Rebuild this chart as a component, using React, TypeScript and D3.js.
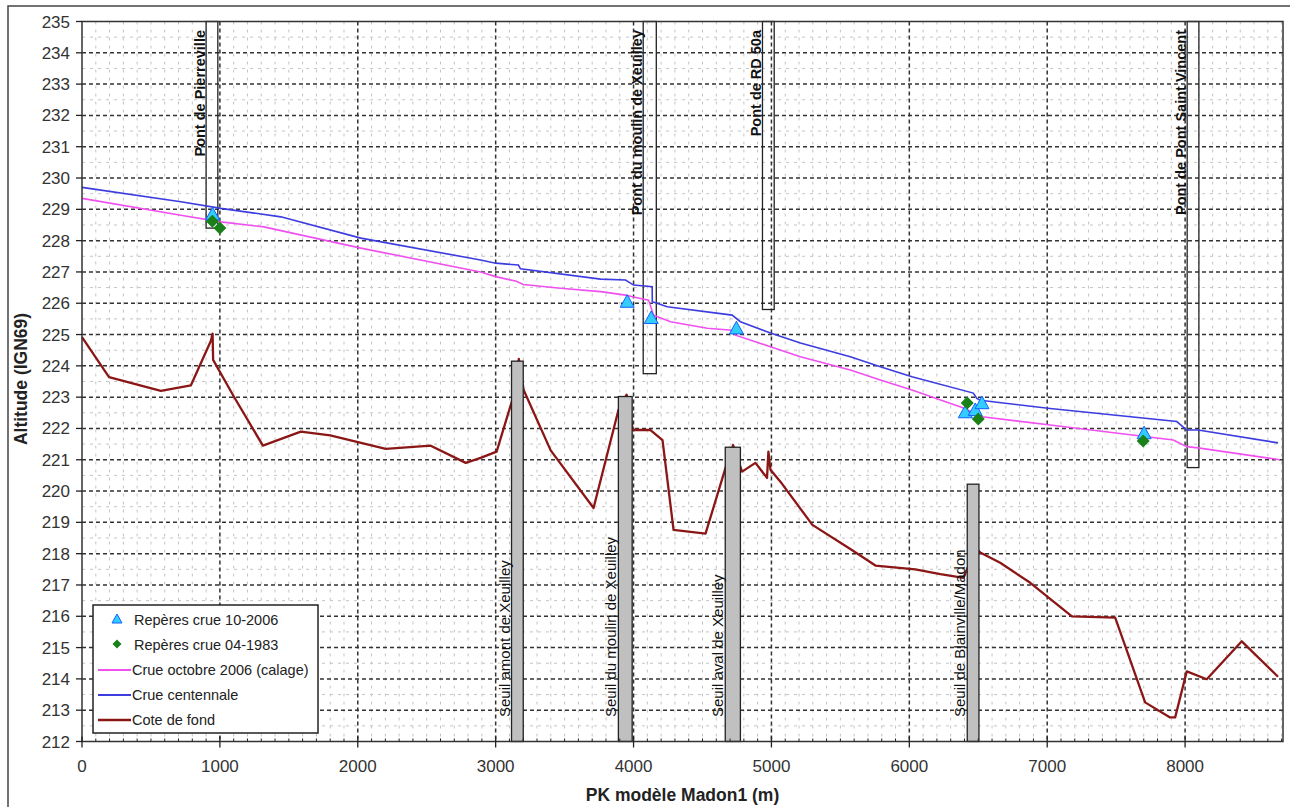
import React from 'react';
import * as d3 from 'd3';

// ---------- Data ----------
const coteDeFond: [number, number][] = [
  [0, 224.92], [196, 223.64], [572, 223.2], [790, 223.38], [935, 224.8], [947, 225.03],
  [951, 224.19], [1101, 223.02], [1312, 221.45], [1587, 221.9], [1800, 221.78],
  [2203, 221.35], [2529, 221.45], [2783, 220.9], [2891, 221.06], [3007, 221.26],
  [3120, 222.9], [3168, 224.22], [3203, 223.23], [3399, 221.3], [3710, 219.46],
  [3891, 222.6], [3950, 223.08], [3995, 221.95], [4123, 221.95], [4210, 221.63],
  [4290, 218.76], [4522, 218.64], [4667, 220.74], [4722, 221.47], [4787, 220.62],
  [4884, 220.9], [4968, 220.42], [4978, 221.26], [4993, 220.68], [5065, 220.3],
  [5297, 218.92], [5572, 218.15], [5754, 217.62], [6043, 217.5], [6225, 217.35],
  [6393, 217.23], [6423, 217.55], [6500, 218.1], [6514, 218.04], [6659, 217.71],
  [6877, 217.07], [7179, 216.0], [7493, 215.96], [7710, 213.25], [7891, 212.77],
  [7928, 212.77], [8012, 214.24], [8157, 213.99], [8411, 215.2], [8674, 214.07],
];

const crueCentennale: [number, number][] = [
  [0, 229.7], [717, 229.24], [1007, 229.03], [1442, 228.76], [2022, 228.08],
  [2891, 227.38], [3000, 227.28], [3165, 227.22], [3180, 227.1], [3761, 226.77],
  [3942, 226.74], [4000, 226.58], [4135, 226.53], [4136, 226.05], [4244, 225.89],
  [4715, 225.62], [4775, 225.41], [4993, 225.05], [5210, 224.73], [5572, 224.29],
  [5790, 223.97], [6019, 223.65], [6464, 223.13], [6490, 222.96], [6514, 222.9],
  [7021, 222.64], [7940, 222.22], [8012, 221.95], [8094, 221.95], [8674, 221.54],
];

const crueOctobre2006: [number, number][] = [
  [0, 229.35], [717, 228.81], [1007, 228.6], [1319, 228.44], [2022, 227.76],
  [2891, 227.0], [3000, 226.85], [3150, 226.7], [3200, 226.6], [3471, 226.48],
  [3761, 226.37], [3942, 226.26], [4000, 226.2], [4109, 226.1], [4145, 225.62],
  [4268, 225.41], [4534, 225.2], [4715, 225.14], [4739, 224.98], [4993, 224.61],
  [5210, 224.29], [5572, 223.87], [5790, 223.55], [6019, 223.23], [6393, 222.65],
  [6514, 222.38], [7021, 222.11], [7915, 221.63], [8012, 221.42], [8094, 221.38],
  [8688, 221.0],
];

const reperes2006: [number, number][] = [
  [947, 228.84], [3954, 226.05], [4128, 225.53], [4746, 225.2],
  [6406, 222.52], [6478, 222.59], [6527, 222.81], [7703, 221.85],
];

const reperes1983: [number, number][] = [
  [945, 228.62], [1000, 228.4], [6420, 222.81], [6500, 222.3], [7696, 221.6],
];

const bridgeNames = ['Pont de Pierreville', 'Pont du moulin de Xeuilley', 'Pont de RD 50a', 'Pont de Pont Saint Vincent'];
const bridgeStart = [900, 4070, 4935, 8015];
const bridgeEnd = [985, 4165, 5020, 8100];
const bridgeBottom = [228.4, 223.75, 225.8, 220.75];

const weirNames = ['Seuil amont de Xeuilley', 'Seuil du moulin de Xeuilley', 'Seuil aval de Xeuilley', 'Seuil de Blainville/Madon'];
const weirStart = [3115, 3890, 4665, 6420];
const weirEnd = [3200, 3990, 4775, 6505];
const weirTop = [224.15, 223.02, 221.4, 220.22];

const xTicks = [0, 1000, 2000, 3000, 4000, 5000, 6000, 7000, 8000];
const yTicks = d3.range(212, 236, 1);

const legendLabels = [
  'Repères crue 10-2006',
  'Repères crue 04-1983',
  'Crue octobre 2006 (calage)',
  'Crue centennale',
  'Cote de fond',
];

// ---------- Styles ----------
const COL_PINK = '#f050f0';
const COL_BLUE = '#3c3ce0';
const COL_RED = '#8b1616';
const TRI_FILL = '#33ccff';
const TRI_STROKE = '#1060ff';
const DIA_FILL = '#1a801a';
const FONT = '"Liberation Sans", Arial, sans-serif';

export default function App() {
  const W = 1290, H = 807;
  const x = d3.scaleLinear().domain([0, 8710]).range([82, 1283]);
  const y = d3.scaleLinear().domain([212, 235]).range([741.5, 21.5]);
  const [x0, x1] = x.range();
  const [yb, yt] = y.range();

  const line = d3.line<[number, number]>().x(d => x(d[0])).y(d => y(d[1]));

  const minorX = d3.range(100, 8710, 100).filter(v => v % 1000 !== 0);
  const minorY = d3.range(212.5, 235, 1);

  const tri = (cx: number, cy: number, s = 7) =>
    `M${cx},${cy - s} L${cx + s},${cy + s * 0.8} L${cx - s},${cy + s * 0.8} Z`;
  const dia = (cx: number, cy: number, s = 6.5) =>
    `M${cx},${cy - s} L${cx + s},${cy} L${cx},${cy + s} L${cx - s},${cy} Z`;

  return (
    <svg width={W} height={H} style={{ position: 'absolute', left: 0, top: 0, background: '#fff' }} fontFamily={FONT}>
      <rect x={0} y={0} width={W} height={H} fill="#fff" />
      <rect x={8} y={6} width={W} height={H} fill="none" stroke="#444" strokeWidth={1.5} />

      {/* minor grid */}
      <g stroke="#c4c4c4" strokeWidth={1} strokeDasharray="3 5">
        {minorX.map(v => (
          <line key={'mx' + v} x1={x(v)} x2={x(v)} y1={yt} y2={yb} />
        ))}
        {minorY.map(v => (
          <line key={'my' + v} x1={x0} x2={x1} y1={y(v)} y2={y(v)} />
        ))}
      </g>
      {/* major grid */}
      <g stroke="#333" strokeWidth={1.5} strokeDasharray="4 3">
        {xTicks.filter(v => v > 0).map(v => (
          <line key={'gx' + v} x1={x(v)} x2={x(v)} y1={yt} y2={yb} />
        ))}
        {yTicks.filter(v => v > 212 && v < 235).map(v => (
          <line key={'gy' + v} x1={x0} x2={x1} y1={y(v)} y2={y(v)} />
        ))}
      </g>

      {/* cote de fond */}
      <path d={line(coteDeFond) || ''} fill="none" stroke={COL_RED} strokeWidth={2.3} strokeLinejoin="round" />

      {/* weirs */}
      {weirNames.map((n, i) => (
        <g key={n}>
          <rect x={x(weirStart[i])} y={y(weirTop[i])} width={x(weirEnd[i]) - x(weirStart[i])}
            height={yb - y(weirTop[i])} fill="#c0c0c0" stroke="#222" strokeWidth={1.3} />
          <text transform={`translate(${x(weirStart[i]) - 2},717) rotate(-90)`} fontSize={15}
            fill="#111" textAnchor="start">{n}</text>
        </g>
      ))}

      {/* bridges */}
      {bridgeNames.map((n, i) => (
        <g key={n}>
          <rect x={x(bridgeStart[i])} y={yt} width={x(bridgeEnd[i]) - x(bridgeStart[i])}
            height={y(bridgeBottom[i]) - yt} fill="none" stroke="#222" strokeWidth={1.3} />
          <text transform={`translate(${x(bridgeStart[i]) - 1.5},30) rotate(-90)`} fontSize={14.5}
            fontWeight="bold" fill="#111" textAnchor="end">{n}</text>
        </g>
      ))}

      {/* water lines */}
      <path d={line(crueOctobre2006) || ''} fill="none" stroke={COL_PINK} strokeWidth={1.6} />
      <path d={line(crueCentennale) || ''} fill="none" stroke={COL_BLUE} strokeWidth={1.6} />

      {/* markers */}
      {reperes2006.map((d, i) => (
        <path key={'t' + i} d={tri(x(d[0]), y(d[1]))} fill={TRI_FILL} stroke={TRI_STROKE} strokeWidth={1} />
      ))}
      {reperes1983.map((d, i) => (
        <path key={'d' + i} d={dia(x(d[0]), y(d[1]))} fill={DIA_FILL} />
      ))}

      {/* plot frame */}
      <rect x={x0} y={yt} width={x1 - x0} height={yb - yt} fill="none" stroke="#333" strokeWidth={1.5} />

      {/* axis ticks */}
      <g stroke="#222" strokeWidth={1.3}>
        {yTicks.map(v => (
          <line key={'yt' + v} x1={x0 - 6} x2={x0} y1={y(v)} y2={y(v)} />
        ))}
        {xTicks.map(v => (
          <line key={'xt' + v} x1={x(v)} x2={x(v)} y1={yb - 5} y2={yb + 6} />
        ))}
        {minorX.map(v => (
          <line key={'xm' + v} x1={x(v)} x2={x(v)} y1={yb - 3} y2={yb} strokeWidth={1} />
        ))}
      </g>
      <g fontSize={17} fill="#333" textAnchor="end">
        {yTicks.map(v => (
          <text key={'yl' + v} x={70} y={y(v) + 6}>{v}</text>
        ))}
      </g>
      <g fontSize={17} fill="#333" textAnchor="middle">
        {xTicks.map(v => (
          <text key={'xl' + v} x={x(v)} y={772}>{v}</text>
        ))}
      </g>

      {/* axis titles */}
      <text x={(x0 + x1) / 2} y={801} textAnchor="middle" fontSize={17.5} fontWeight="bold" fill="#222">
        PK modèle Madon1 (m)
      </text>
      <text transform={`translate(27,379) rotate(-90)`} textAnchor="middle" fontSize={17.5}
        fontWeight="bold" fill="#222">Altitude (IGN69)</text>

      {/* legend */}
      <g>
        <rect x={93} y={605} width={225} height={128} fill="#fff" stroke="#222" strokeWidth={1.5} />
        <path d={tri(117, 619, 5)} fill={TRI_FILL} stroke={TRI_STROKE} strokeWidth={1} />
        <path d={dia(117, 644, 4.5)} fill={DIA_FILL} />
        <line x1={98} x2={131} y1={670} y2={670} stroke={COL_PINK} strokeWidth={2} />
        <line x1={98} x2={131} y1={695} y2={695} stroke={COL_BLUE} strokeWidth={2} />
        <line x1={98} x2={131} y1={720} y2={720} stroke={COL_RED} strokeWidth={2.5} />
        {legendLabels.map((l, i) => (
          <text key={l} x={i < 2 ? 134 : 132} y={624.5 + i * 25.2} fontSize={14.5} fill="#222">{l}</text>
        ))}
      </g>
    </svg>
  );
}
